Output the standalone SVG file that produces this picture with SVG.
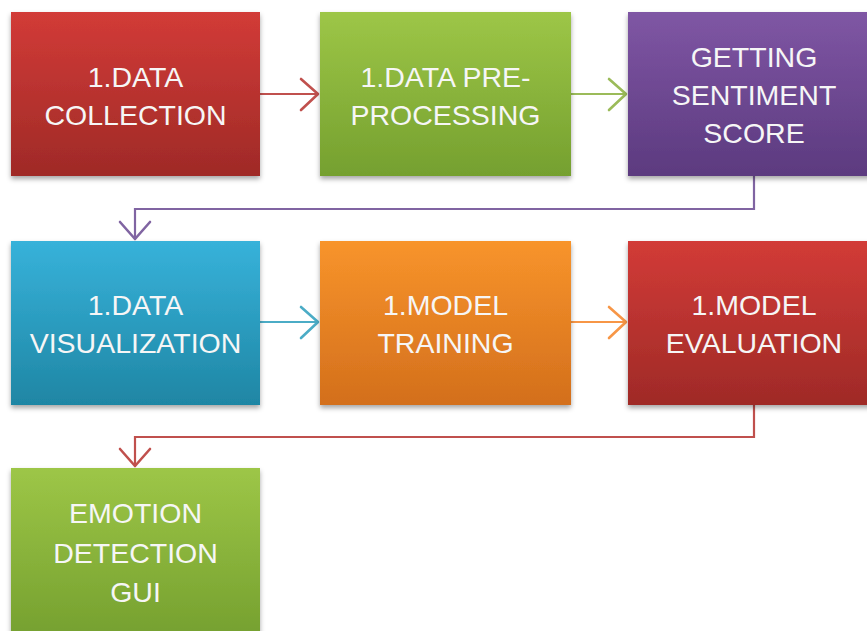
<svg xmlns="http://www.w3.org/2000/svg" width="867" height="631" viewBox="0 0 867 631">
<defs>
<linearGradient id="gRed" x1="0" y1="0" x2="0" y2="1"><stop offset="0" stop-color="#d23b37"/><stop offset="1" stop-color="#9f2a27"/></linearGradient>
<linearGradient id="gGreen" x1="0" y1="0" x2="0" y2="1"><stop offset="0" stop-color="#9dc647"/><stop offset="1" stop-color="#75a02f"/></linearGradient>
<linearGradient id="gPurple" x1="0" y1="0" x2="0" y2="1"><stop offset="0" stop-color="#7f56a4"/><stop offset="1" stop-color="#5c3a7f"/></linearGradient>
<linearGradient id="gBlue" x1="0" y1="0" x2="0" y2="1"><stop offset="0" stop-color="#37b2da"/><stop offset="1" stop-color="#1f86a4"/></linearGradient>
<linearGradient id="gOrange" x1="0" y1="0" x2="0" y2="1"><stop offset="0" stop-color="#f8942b"/><stop offset="1" stop-color="#d36f1c"/></linearGradient>
<filter id="sh" x="-10%" y="-10%" width="120%" height="130%"><feDropShadow dx="0" dy="3" stdDeviation="2.5" flood-color="#000" flood-opacity="0.35"/></filter>
</defs>
<style>
text{font-family:"Liberation Sans",Arial,sans-serif;font-size:28.5px;fill:#f6f6f6;text-anchor:middle}
.c{fill:none;stroke-width:2.2}
.h{fill:none;stroke-width:2.6;stroke-linecap:round;stroke-linejoin:round}
</style>
<rect width="867" height="631" fill="#fff"/>
<g id="connectors">
<path class="c" stroke="#c0504d" d="M260 94 H318"/><path class="h" stroke="#c0504d" d="M301 79 L318 94 L301 110"/>
<path class="c" stroke="#9bbb59" d="M571 94 H626"/><path class="h" stroke="#9bbb59" d="M609 79 L626 94 L609 110"/>
<path class="c" stroke="#8064a2" d="M754 176 V209 H135 V239"/><path class="h" stroke="#8064a2" d="M120 222 L135 239 L150 222"/>
<path class="c" stroke="#4bacc6" d="M260 322 H318"/><path class="h" stroke="#4bacc6" d="M301 307 L318 322 L301 338"/>
<path class="c" stroke="#f79646" d="M571 322 H626"/><path class="h" stroke="#f79646" d="M609 307 L626 322 L609 338"/>
<path class="c" stroke="#c0504d" d="M754 405 V437 H135 V466"/><path class="h" stroke="#c0504d" d="M120 449 L135 466 L150 449"/>
</g>
<g id="n1"><rect x="11" y="12" width="249" height="164" fill="url(#gRed)" filter="url(#sh)"/><text x="135.5" y="87">1.DATA</text><text x="135.5" y="125">COLLECTION</text></g>
<g id="n2"><rect x="320" y="12" width="251" height="164" fill="url(#gGreen)" filter="url(#sh)"/><text x="445.5" y="87">1.DATA PRE-</text><text x="445.5" y="125">PROCESSING</text></g>
<g id="n3"><rect x="628" y="12" width="252" height="164" fill="url(#gPurple)" filter="url(#sh)"/><text x="754" y="67">GETTING</text><text x="754" y="105">SENTIMENT</text><text x="754" y="143">SCORE</text></g>
<g id="n4"><rect x="11" y="241" width="249" height="164" fill="url(#gBlue)" filter="url(#sh)"/><text x="135.5" y="315">1.DATA</text><text x="135.5" y="353">VISUALIZATION</text></g>
<g id="n5"><rect x="320" y="241" width="251" height="164" fill="url(#gOrange)" filter="url(#sh)"/><text x="445.5" y="315">1.MODEL</text><text x="445.5" y="353">TRAINING</text></g>
<g id="n6"><rect x="628" y="241" width="252" height="164" fill="url(#gRed)" filter="url(#sh)"/><text x="754" y="315">1.MODEL</text><text x="754" y="353">EVALUATION</text></g>
<g id="n7"><rect x="11" y="468" width="249" height="170" fill="url(#gGreen)" filter="url(#sh)"/><text x="135.5" y="523">EMOTION</text><text x="135.5" y="563">DETECTION</text><text x="135.5" y="602">GUI</text></g>
</svg>
